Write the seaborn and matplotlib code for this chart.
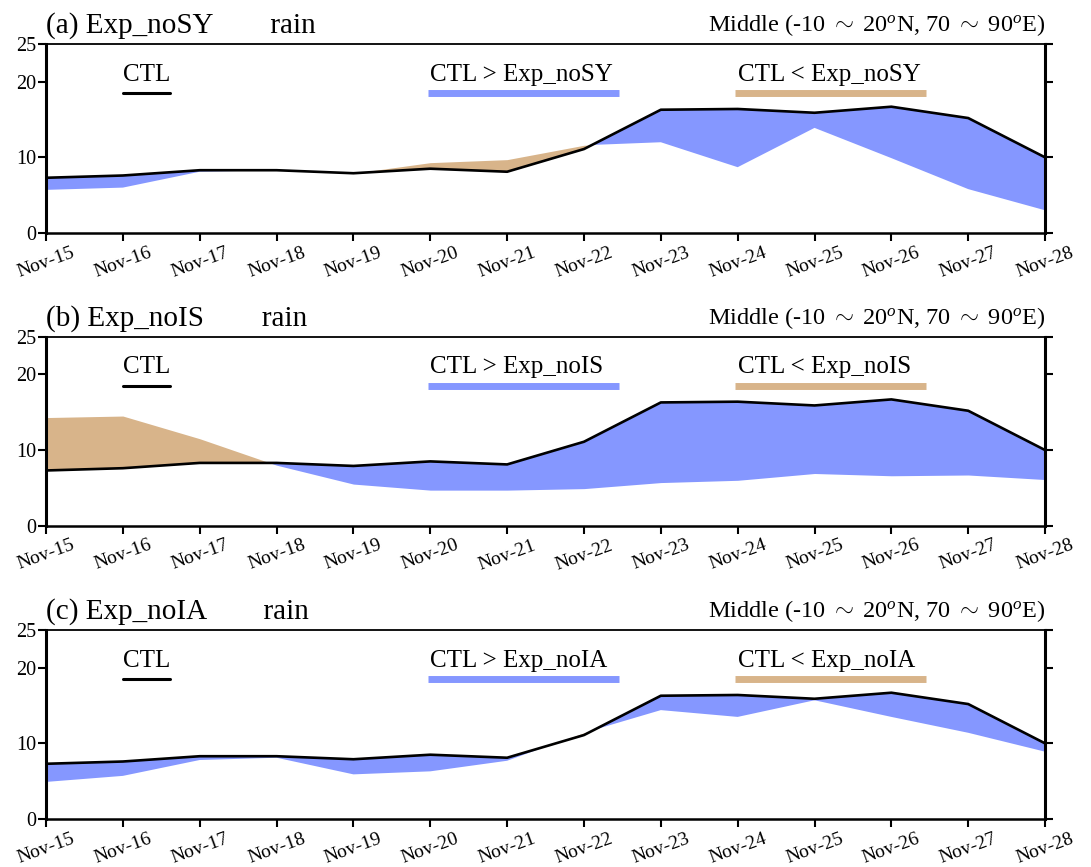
import numpy as np
import pandas as pd
import matplotlib
matplotlib.use("Agg")
import matplotlib.pyplot as plt
import seaborn as sns

# ---- data (mm/day) ----
days = ["Nov-15", "Nov-16", "Nov-17", "Nov-18", "Nov-19", "Nov-20", "Nov-21",
        "Nov-22", "Nov-23", "Nov-24", "Nov-25", "Nov-26", "Nov-27", "Nov-28"]
ctl = [7.3, 7.6, 8.3, 8.3, 7.9, 8.5, 8.1, 11.1, 16.3, 16.4, 15.9, 16.7, 15.2, 10.0]
exp_nosy = [5.7, 6.0, 8.1, 8.3, 7.9, 9.3, 9.7, 11.6, 12.0, 8.7, 13.9, 9.9, 5.8, 3.0]
exp_nois = [14.3, 14.5, 11.5, 8.0, 5.5, 4.7, 4.7, 4.9, 5.7, 6.0, 6.9, 6.6, 6.7, 6.1]
exp_noia = [4.9, 5.7, 7.8, 8.1, 5.9, 6.3, 7.7, 11.4, 14.4, 13.5, 15.7, 13.5, 11.4, 8.9]

panels = [("(a)", "Exp_noSY", exp_nosy),
          ("(b)", "Exp_noIS", exp_nois),
          ("(c)", "Exp_noIA", exp_noia)]

BLUE = "#8597FF"
TAN = "#D8B48A"

sns.set_theme(style="ticks")
plt.rcParams["font.family"] = ["Liberation Serif", "DejaVu Serif"]
plt.rcParams["mathtext.fontset"] = "custom"
plt.rcParams["mathtext.rm"] = "Liberation Serif"
plt.rcParams["mathtext.it"] = "Liberation Serif:italic"
for k in ["text.color", "axes.edgecolor", "axes.labelcolor",
          "xtick.color", "ytick.color"]:
    plt.rcParams[k] = "black"

fig = plt.figure(figsize=(10.91, 8.67), dpi=100)
bottoms = [0.7313, 0.3937, 0.0554]
x = np.arange(len(days))

for (tag, name, exp), bot in zip(panels, bottoms):
    ax = fig.add_axes([0.0422, bot, 0.9157, 0.218])
    df = pd.DataFrame({"x": x, "CTL": ctl, name: exp})
    c = np.array(ctl)
    e = np.array(exp)
    ax.fill_between(x, c, e, where=c >= e, interpolate=True, color=BLUE, lw=0)
    ax.fill_between(x, c, e, where=c < e, interpolate=True, color=TAN, lw=0)
    sns.lineplot(data=df, x="x", y="CTL", ax=ax, color="black", lw=1.9)

    ax.set_xlim(0, len(days) - 1)
    ax.set_ylim(0, 25)
    ax.set_xticks(x)
    ax.set_xticklabels(days, rotation=20, fontsize=14, ha="center")
    ax.set_yticks([0, 10, 20, 25])
    ax.set_yticklabels(["0", "10", "20", "25"], fontsize=14.5)
    ax.set_xlabel("")
    ax.set_ylabel("")
    ax.tick_params(axis="y", which="both", right=True, direction="out",
                   length=6, width=1.5, pad=1)
    ax.tick_params(axis="x", direction="out", length=6, width=1.5, pad=2)
    ax.spines["left"].set_linewidth(2.2)
    ax.spines["right"].set_linewidth(2.2)
    ax.spines["bottom"].set_linewidth(1.8)
    ax.spines["top"].set_linewidth(1.3)

    # in-panel legend
    ax.plot([1.0, 1.61], [18.5, 18.5], color="black", lw=2.2)
    ax.text(1.0, 19.5, "CTL", fontsize=18, ha="left", va="bottom")
    ax.plot([4.97, 7.45], [18.5, 18.5], color=BLUE, lw=5, solid_capstyle="butt")
    ax.text(5.0, 19.5, "CTL > " + name, fontsize=18, ha="left", va="bottom")
    ax.plot([8.97, 11.45], [18.5, 18.5], color=TAN, lw=5, solid_capstyle="butt")
    ax.text(9.0, 19.5, "CTL < " + name, fontsize=18, ha="left", va="bottom")

    ax.text(0.0, 1.025, tag + " " + name + "        rain", transform=ax.transAxes,
            fontsize=21, ha="left", va="bottom")
    ax.text(1.0, 1.03, r"Middle (-10 $\sim$ 20$^{o}$N, 70 $\sim$ 90$^{o}$E)",
            transform=ax.transAxes, fontsize=17.5, ha="right", va="bottom")

fig.savefig("out.png", dpi=100)
